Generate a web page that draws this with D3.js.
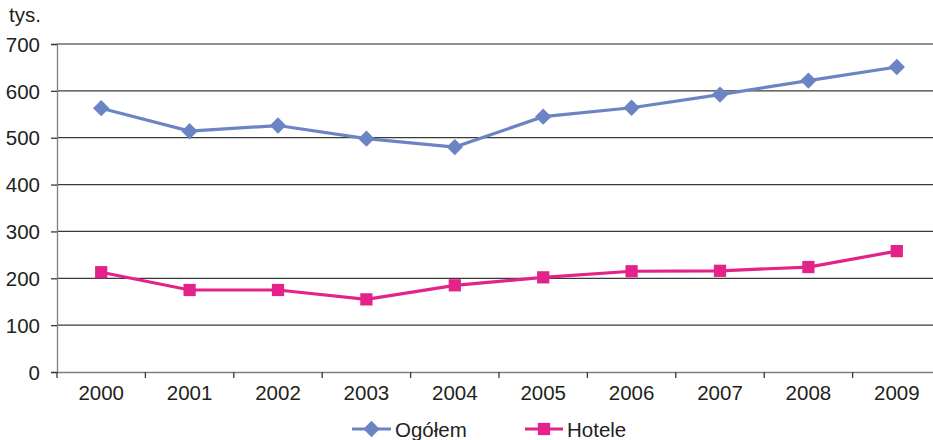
<!DOCTYPE html>
<html><head><meta charset="utf-8">
<script src="https://cdn.jsdelivr.net/npm/d3@7"></script>
<style>body{margin:0;background:#fff}svg{display:block}text{font-family:"Liberation Sans",Arial,sans-serif;fill:#231f20}</style>
</head><body><svg id="c" width="933" height="440"></svg>
<script>
const years = ["2000","2001","2002","2003","2004","2005","2006","2007","2008","2009"];
const ogolem = [563,514,526,498,480,545,564,592,622,651];
const hotele = [213,175,175,155,185,202,215,216,224,258];
const yTicks = [0,100,200,300,400,500,600,700];
const seriesNames = ["Ogółem","Hotele"];
const colors = ["#6b84c4","#e3238a"];

const FS = 20.5;
const svg = d3.select("#c");
const L = 57, R = 941, T = 44, B = 372;
const x = d3.scaleBand().domain(years).range([L,R]);
const y = d3.scaleLinear().domain([0,700]).range([B,T]);

// grid
svg.append("g").selectAll("line").data(yTicks.filter(d=>d>0)).join("line")
  .attr("x1",L).attr("x2",933).attr("y1",d=>y(d)).attr("y2",d=>y(d))
  .attr("stroke",d=>d===700?"#6d6d6d":"#3a3a3a").attr("stroke-width",1.3);

// y axis
const ya = svg.append("g").attr("transform",`translate(${L},0)`)
  .call(d3.axisLeft(y).tickValues(yTicks).tickSize(6).tickPadding(11));
ya.select(".domain").attr("stroke","#7f7f7f").attr("stroke-width",1.3);
ya.selectAll(".tick line").attr("stroke","#3a3a3a").attr("stroke-width",1.3);
ya.selectAll("text").attr("font-size",FS).attr("dy","0.35em").attr("fill","#231f20");

// x axis
const xa = svg.append("g").attr("transform",`translate(0,${B})`)
  .call(d3.axisBottom(x).tickSize(0).tickPadding(0));
xa.select(".domain").attr("stroke","#7f7f7f").attr("stroke-width",1.3);
xa.selectAll("text").attr("font-size",FS).attr("fill","#231f20").attr("dy",0).attr("y",28);
const bounds = years.map((d,i)=>x(d)).concat([x(years[years.length-1])+x.bandwidth()]);
xa.selectAll(".bt").data(bounds).join("line").attr("class","bt")
  .attr("x1",d=>d).attr("x2",d=>d).attr("y1",0).attr("y2",6)
  .attr("stroke","#3a3a3a").attr("stroke-width",1.3);

svg.append("text").attr("x",9).attr("y",22).attr("font-size",FS).text("tys.");

const cx = d => x(d)+x.bandwidth()/2;
const line = d3.line().x((d,i)=>cx(years[i])).y(d=>y(d));
const data = [ogolem, hotele];
const diamond = d3.symbol().type(d3.symbolDiamond2).size(170);
const square = d3.symbol().type(d3.symbolSquare).size(150);
const syms = [diamond, square];

data.forEach((s,k)=>{
  svg.append("path").attr("d",line(s)).attr("fill","none")
    .attr("stroke",colors[k]).attr("stroke-width",3.2);
  svg.append("g").selectAll("path").data(s).join("path")
    .attr("transform",(d,i)=>`translate(${cx(years[i])},${y(d)})`)
    .attr("d",syms[k]()).attr("fill",colors[k]);
});

// legend
const leg = [{x:352,w:39},{x:525,w:38}];
seriesNames.forEach((n,k)=>{
  const g = svg.append("g");
  const lx = leg[k].x, ly = 429;
  g.append("line").attr("x1",lx).attr("x2",lx+leg[k].w).attr("y1",ly).attr("y2",ly)
    .attr("stroke",colors[k]).attr("stroke-width",3.2);
  g.append("path").attr("transform",`translate(${lx+leg[k].w/2},${ly})`)
    .attr("d",syms[k]()).attr("fill",colors[k]);
  g.append("text").attr("x",lx+leg[k].w+4).attr("y",ly+8).attr("font-size",FS).text(n);
});
</script></body></html>
